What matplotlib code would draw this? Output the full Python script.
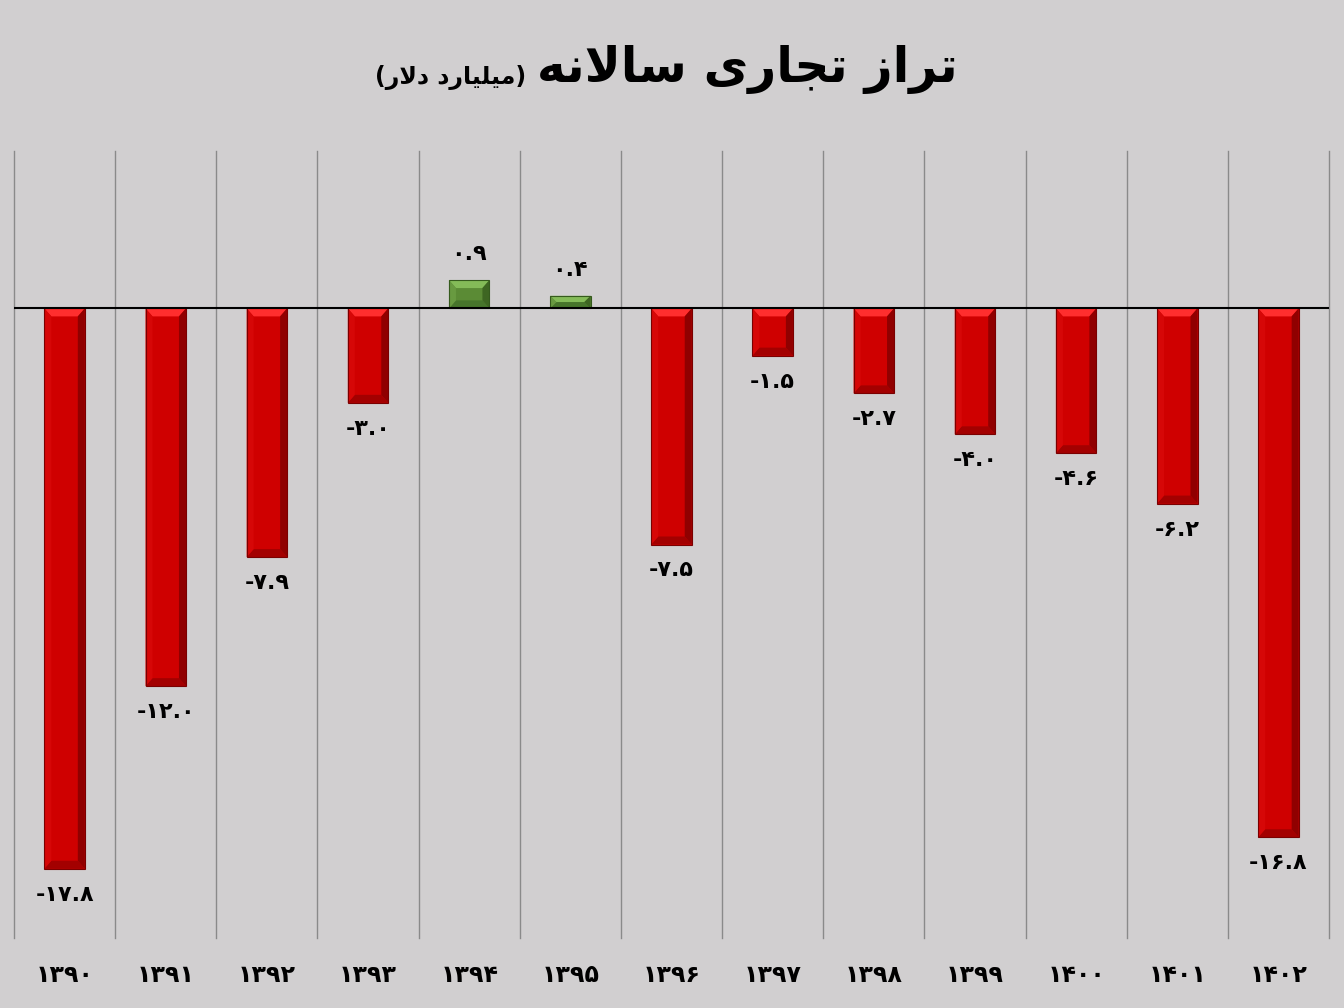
import matplotlib
matplotlib.use("Agg")
import matplotlib.pyplot as plt
from matplotlib.patches import Polygon

# ---------------- data ----------------
years = ["1390", "1391", "1392", "1393", "1394", "1395", "1396",
         "1397", "1398", "1399", "1400", "1401", "1402"]
balance = [-17.8, -12.0, -7.9, -3.0, 0.9, 0.4, -7.5,
           -1.5, -2.7, -4.0, -4.6, -6.2, -16.8]
title_text = "تراز تجاری سالانه"
subtitle_text = "میلیارد دلار"

# ---------------- simple Arabic-script shaping (no external libs) ----------------
FORMS = {  # isolated, final, initial, medial
    "ا": ("\uFE8D", "\uFE8E", None, None),
    "د": ("\uFEA9", "\uFEAA", None, None),
    "ر": ("\uFEAD", "\uFEAE", None, None),
    "ز": ("\uFEAF", "\uFEB0", None, None),
    "ت": ("\uFE95", "\uFE96", "\uFE97", "\uFE98"),
    "ج": ("\uFE9D", "\uFE9E", "\uFE9F", "\uFEA0"),
    "ی": ("\uFEEF", "\uFEF0", "\uFEF3", "\uFEF4"),
    "س": ("\uFEB1", "\uFEB2", "\uFEB3", "\uFEB4"),
    "ل": ("\uFEDD", "\uFEDE", "\uFEDF", "\uFEE0"),
    "ن": ("\uFEE5", "\uFEE6", "\uFEE7", "\uFEE8"),
    "ه": ("\uFEE9", "\uFEEA", "\uFEEB", "\uFEEC"),
    "م": ("\uFEE1", "\uFEE2", "\uFEE3", "\uFEE4"),
    "LA": ("\uFEFB", "\uFEFC", None, None),
}


def shape_word(word):
    letters = []
    i = 0
    while i < len(word):
        if word[i] == "ل" and i + 1 < len(word) and word[i + 1] == "ا":
            letters.append("LA")
            i += 2
        else:
            letters.append(word[i])
            i += 1
    out = []
    for k, ch in enumerate(letters):
        iso, fin, ini, med = FORMS[ch]
        prev_joins = k > 0 and FORMS[letters[k - 1]][2] is not None
        next_exists = k < len(letters) - 1
        can_next = ini is not None and next_exists
        if prev_joins and can_next:
            out.append(med)
        elif prev_joins:
            out.append(fin)
        elif can_next:
            out.append(ini)
        else:
            out.append(iso)
    return "".join(out)


def rtl(text):
    shaped = " ".join(shape_word(w) for w in text.split(" "))
    return shaped[::-1]


PERSIAN_DIGITS = str.maketrans("0123456789", "۰۱۲۳۴۵۶۷۸۹")


def fa_num(s):
    return s.translate(PERSIAN_DIGITS)


# ---------------- figure ----------------
BG = "#d1cfd0"
FONT = "DejaVu Sans"
fig = plt.figure(figsize=(13.44, 10.08), dpi=100, facecolor=BG)
ax = fig.add_axes([14 / 1344, 70 / 1008, (1329 - 14) / 1344, (938 - 151) / 1008])
ax.set_facecolor(BG)

n = len(years)
x = list(range(n))
ax.set_xlim(-0.5, n - 0.5)
ax.set_ylim(-20, 5)

for s in ax.spines.values():
    s.set_visible(False)
ax.set_yticks([])

# vertical separators at category boundaries
for b in range(n + 1):
    ax.axvline(b - 0.5, color="#8a8a8a", lw=1.0, zorder=1, clip_on=False)

width = 0.4
colors = ["#cf0000" if v < 0 else "#5b8b35" for v in balance]
bars = ax.bar(x, balance, width=width, color=colors, edgecolor="none", zorder=3)

# bevel shading
fig.canvas.draw()
p0 = ax.transData.transform((0, 0))
p1 = ax.transData.transform((1, 1))
px_x = p1[0] - p0[0]
px_y = p1[1] - p0[1]

for rect, v in zip(bars, balance):
    x0 = rect.get_x()
    x1 = x0 + rect.get_width()
    yl = min(0, v)
    yh = max(0, v)
    h_px = (yh - yl) * px_y
    dy = min(8, h_px / 2) / px_y
    dx = min(7, h_px / 2) / px_x
    if v < 0:
        c_top, c_left, c_right, c_bot, c_edge = "#ff2e2e", "#d60707", "#900000", "#a30000", "#7a0000"
    else:
        c_top, c_left, c_right, c_bot, c_edge = "#84bb58", "#689a40", "#3e6622", "#47752b", "#355a1d"
    polys = [
        ([(x0, yh), (x1, yh), (x1 - dx, yh - dy), (x0 + dx, yh - dy)], c_top),
        ([(x0, yl), (x1, yl), (x1 - dx, yl + dy), (x0 + dx, yl + dy)], c_bot),
        ([(x0, yl), (x0 + dx, yl + dy), (x0 + dx, yh - dy), (x0, yh)], c_left),
        ([(x1, yl), (x1 - dx, yl + dy), (x1 - dx, yh - dy), (x1, yh)], c_right),
    ]
    for pts, c in polys:
        ax.add_patch(Polygon(pts, closed=True, facecolor=c, edgecolor="none", zorder=4))
    ax.add_patch(Polygon([(x0, yl), (x1, yl), (x1, yh), (x0, yh)], closed=True,
                         facecolor="none", edgecolor=c_edge, lw=0.8, zorder=5))

# zero line
ax.axhline(0, color="black", lw=1.5, zorder=6)

# value labels
for xi, v in zip(x, balance):
    label = fa_num(f"{v:.1f}")
    off = -26 if v < 0 else 26
    ax.annotate(label, xy=(xi, v), xytext=(0, off * 0.72), textcoords="offset points",
                ha="center", va="center", fontsize=16, fontweight="bold",
                family=FONT, color="black", zorder=7)

# x tick labels
ax.set_xticks(x)
ax.set_xticklabels([fa_num(y) for y in years], fontsize=17, fontweight="bold", family=FONT)
ax.tick_params(axis="x", length=0, pad=18)

# title
fig.text(958 / 1344, 1 - 70 / 1008, rtl(title_text), ha="right", va="center",
         fontsize=35, fontweight="bold", family=FONT, color="black")
fig.text(526 / 1344, 1 - 78 / 1008, "(" + rtl(subtitle_text) + ")", ha="right", va="center",
         fontsize=17, fontweight="bold", family=FONT, color="black")

fig.savefig("out.png", dpi=100, facecolor=BG)
